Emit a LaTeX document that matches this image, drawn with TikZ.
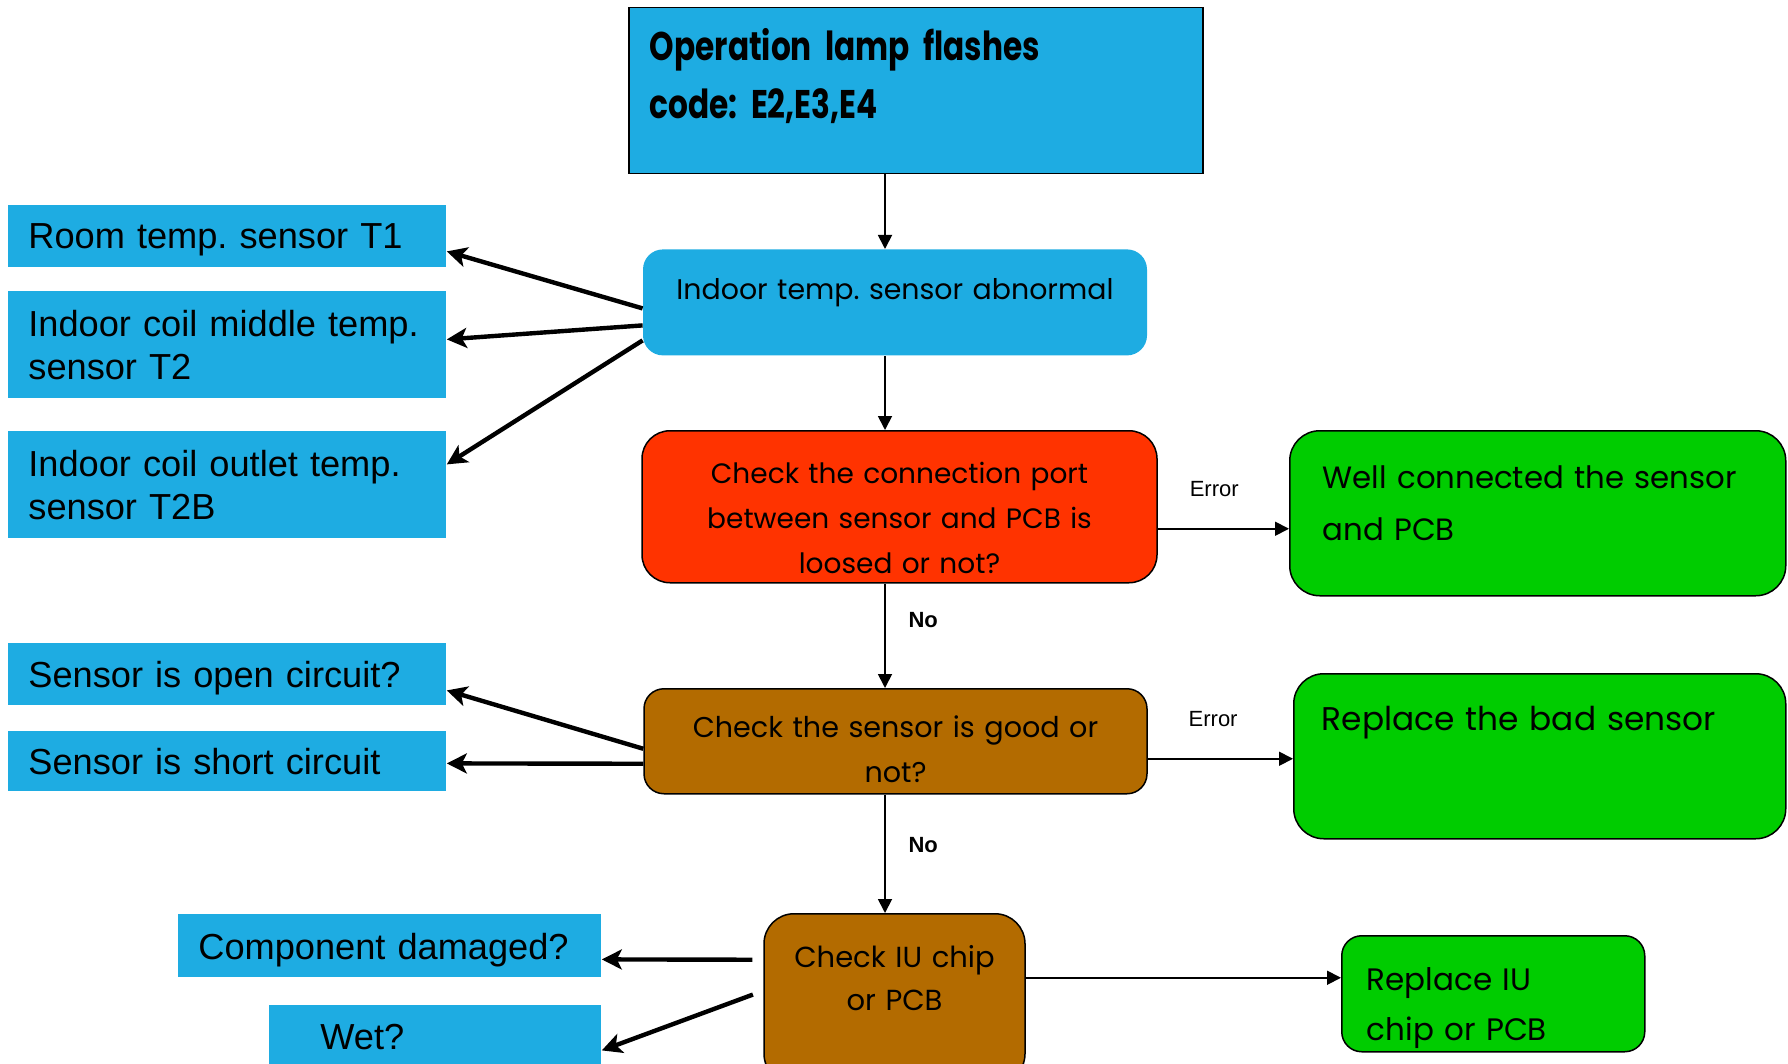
\documentclass[tikz,border=0pt]{standalone}
\usepackage{fontspec}
\setmainfont{Liberation Sans}
\newfontfamily\geofont{Poppins}
\newfontfamily\headfont[FakeStretch=0.78]{Poppins}
\usetikzlibrary{arrows.meta}
\frenchspacing

\definecolor{skyblue}{HTML}{1EACE2}
\definecolor{alarmred}{HTML}{FF3300}
\definecolor{okgreen}{HTML}{00CC00}
\definecolor{rust}{HTML}{B36B00}

\begin{document}
\begin{tikzpicture}
[
	x=0.5pt,y=-0.5pt,
	sensor/.style={fill=skyblue,anchor=north west,inner xsep=10pt,inner ysep=0pt,minimum width=219pt,text width=199pt,align=left,font=\fontsize{18.1}{21.5}\selectfont},
	oneline/.style={text depth=0pt},
	card/.style={inner ysep=0pt,font=\geofont\fontsize{14}{22.5}\selectfont},
	centercard/.style={card,anchor=north,inner xsep=0pt,align=center},
	leftcard/.style={card,anchor=north west,align=left},
	outline/.style={draw=black,line width=0.75pt},
	flow/.style={line width=0.9pt,-{Triangle[length=7pt,width=7pt]}},
	fat/.style={line width=2.2pt,-{Stealth[length=10pt,width=10pt,inset=2.5pt]}},
	tag/.style={font=\fontsize{11}{13}\selectfont}
]
	\useasboundingbox (0,0) rectangle (1788,1064);

	% main column
	\node[leftcard,outline,fill=skyblue,inner xsep=10.5pt,text width=266pt,text height=26.5pt,text depth=56.5pt,font=\headfont\bfseries\fontsize{20}{29}\selectfont] (lamp) at (628,7) {Operation lamp flashes\\code: E2,E3,E4};
	\node[centercard,fill=skyblue,rounded corners=10pt,text width=252pt,text height=25pt,text depth=28pt,font=\geofont\fontsize{14.2}{20}\selectfont] (abn) at (895,249) {Indoor temp. sensor abnormal};
	\node[centercard,outline,fill=alarmred,rounded corners=14pt,text width=257.5pt,text height=26.5pt,text depth=49.5pt] (port) at (899.5,430) {Check the connection port\\between sensor and PCB is\\loosed or not?};
	\node[centercard,outline,fill=rust,rounded corners=10pt,text width=251.5pt,text height=24.5pt,text depth=28pt,font=\geofont\fontsize{14.3}{22.5}\selectfont] (good) at (895.5,688) {Check the sensor is good or\\not?};
	\node[centercard,outline,fill=rust,rounded corners=15pt,text width=130.5pt,text height=27pt,text depth=58pt,font=\geofont\fontsize{14.5}{21.5}\selectfont] (iu) at (894.5,913) {Check IU chip\\or PCB};

	% fixes
	\node[leftcard,outline,fill=okgreen,rounded corners=15pt,inner xsep=16.5pt,text width=215pt,text height=29pt,text depth=53.5pt,font=\geofont\fontsize{15.4}{26}\selectfont] (wire) at (1289,430) {Well connected the sensor\\and PCB};
	\node[leftcard,outline,fill=okgreen,rounded corners=15pt,inner xsep=14pt,text width=218pt,text height=28.5pt,text depth=54pt,font=\geofont\fontsize{16.4}{26}\selectfont] (swap) at (1293,673) {Replace the bad sensor};
	\node[leftcard,outline,fill=okgreen,rounded corners=10pt,inner xsep=12.5pt,text width=126.5pt,text height=27.5pt,text depth=30.5pt,font=\geofont\fontsize{15.5}{25}\selectfont] (chip) at (1341,935) {Replace IU\\chip or PCB};

	% sensors and causes
	\node[sensor,oneline,minimum height=31pt] (tone) at (8,205) {Room temp. sensor T1};
	\node[sensor,minimum height=53.5pt] (ttwo) at (8,291) {Indoor coil middle temp.\\sensor T2};
	\node[sensor,minimum height=53.5pt] (ttwob) at (8,431) {Indoor coil outlet temp.\\sensor T2B};
	\node[sensor,oneline,minimum height=31pt] (open) at (8,643) {Sensor is open circuit?};
	\node[sensor,oneline,minimum height=30pt] (short) at (8,731) {Sensor is short circuit};
	\node[sensor,oneline,minimum width=211.5pt,text width=191.5pt,minimum height=31.5pt] (comp) at (178,914) {Component damaged?};
	\node[sensor,oneline,minimum width=166pt,inner xsep=25.5pt,text width=115pt,minimum height=31.5pt] (wet) at (269,1005) {Wet?};

	\coordinate (spine) at (885,0);

	% down the middle
	\draw[flow] (spine |- lamp.south) -- (spine |- abn.north);
	\draw[flow] (spine |- abn.south) -- (spine |- port.north);
	\draw[flow] (spine |- port.south) -- node[tag,pos=0.35,right=8pt] {\bfseries No} (spine |- good.north);
	\draw[flow] (spine |- good.south) -- node[tag,pos=0.425,right=8pt] {\bfseries No} (spine |- iu.north);

	% to the right
	\draw[flow] ([yshift=-11pt]port.east) -- node[tag,pos=0.43,above=12pt] {Error} ([yshift=-11pt]port.east -| wire.west);
	\draw[flow] ([yshift=-8.75pt]good.east) -- node[tag,pos=0.45,above=12pt] {Error} ([yshift=-8.75pt]good.east -| swap.west);
	\draw[flow] ([yshift=10.5pt]iu.east) -- ([yshift=10.5pt]iu.east -| chip.west);

	% to the left
	\draw[fat] ([yshift=-3pt]abn.west) -- ([yshift=-7.5pt]tone.east);
	\draw[fat] ([yshift=-11.5pt]abn.west) -- ([yshift=2.75pt]ttwo.east);
	\draw[fat] ([yshift=-19pt]abn.west) -- ([yshift=10.25pt]ttwob.east);
	\draw[fat] ([yshift=-3.75pt]good.west) -- ([yshift=-8pt]open.east);
	\draw[fat] ([yshift=-11.25pt]good.west) -- ([yshift=-1pt]short.east);
	\draw[fat,shorten <=5.5pt] ([yshift=19.5pt]iu.west) -- ([yshift=-6.75pt]comp.east);
	\draw[fat,shorten <=5.5pt] ([yshift=4pt]iu.west) -- ([yshift=-6.75pt]wet.east);

\end{tikzpicture}
\end{document}
